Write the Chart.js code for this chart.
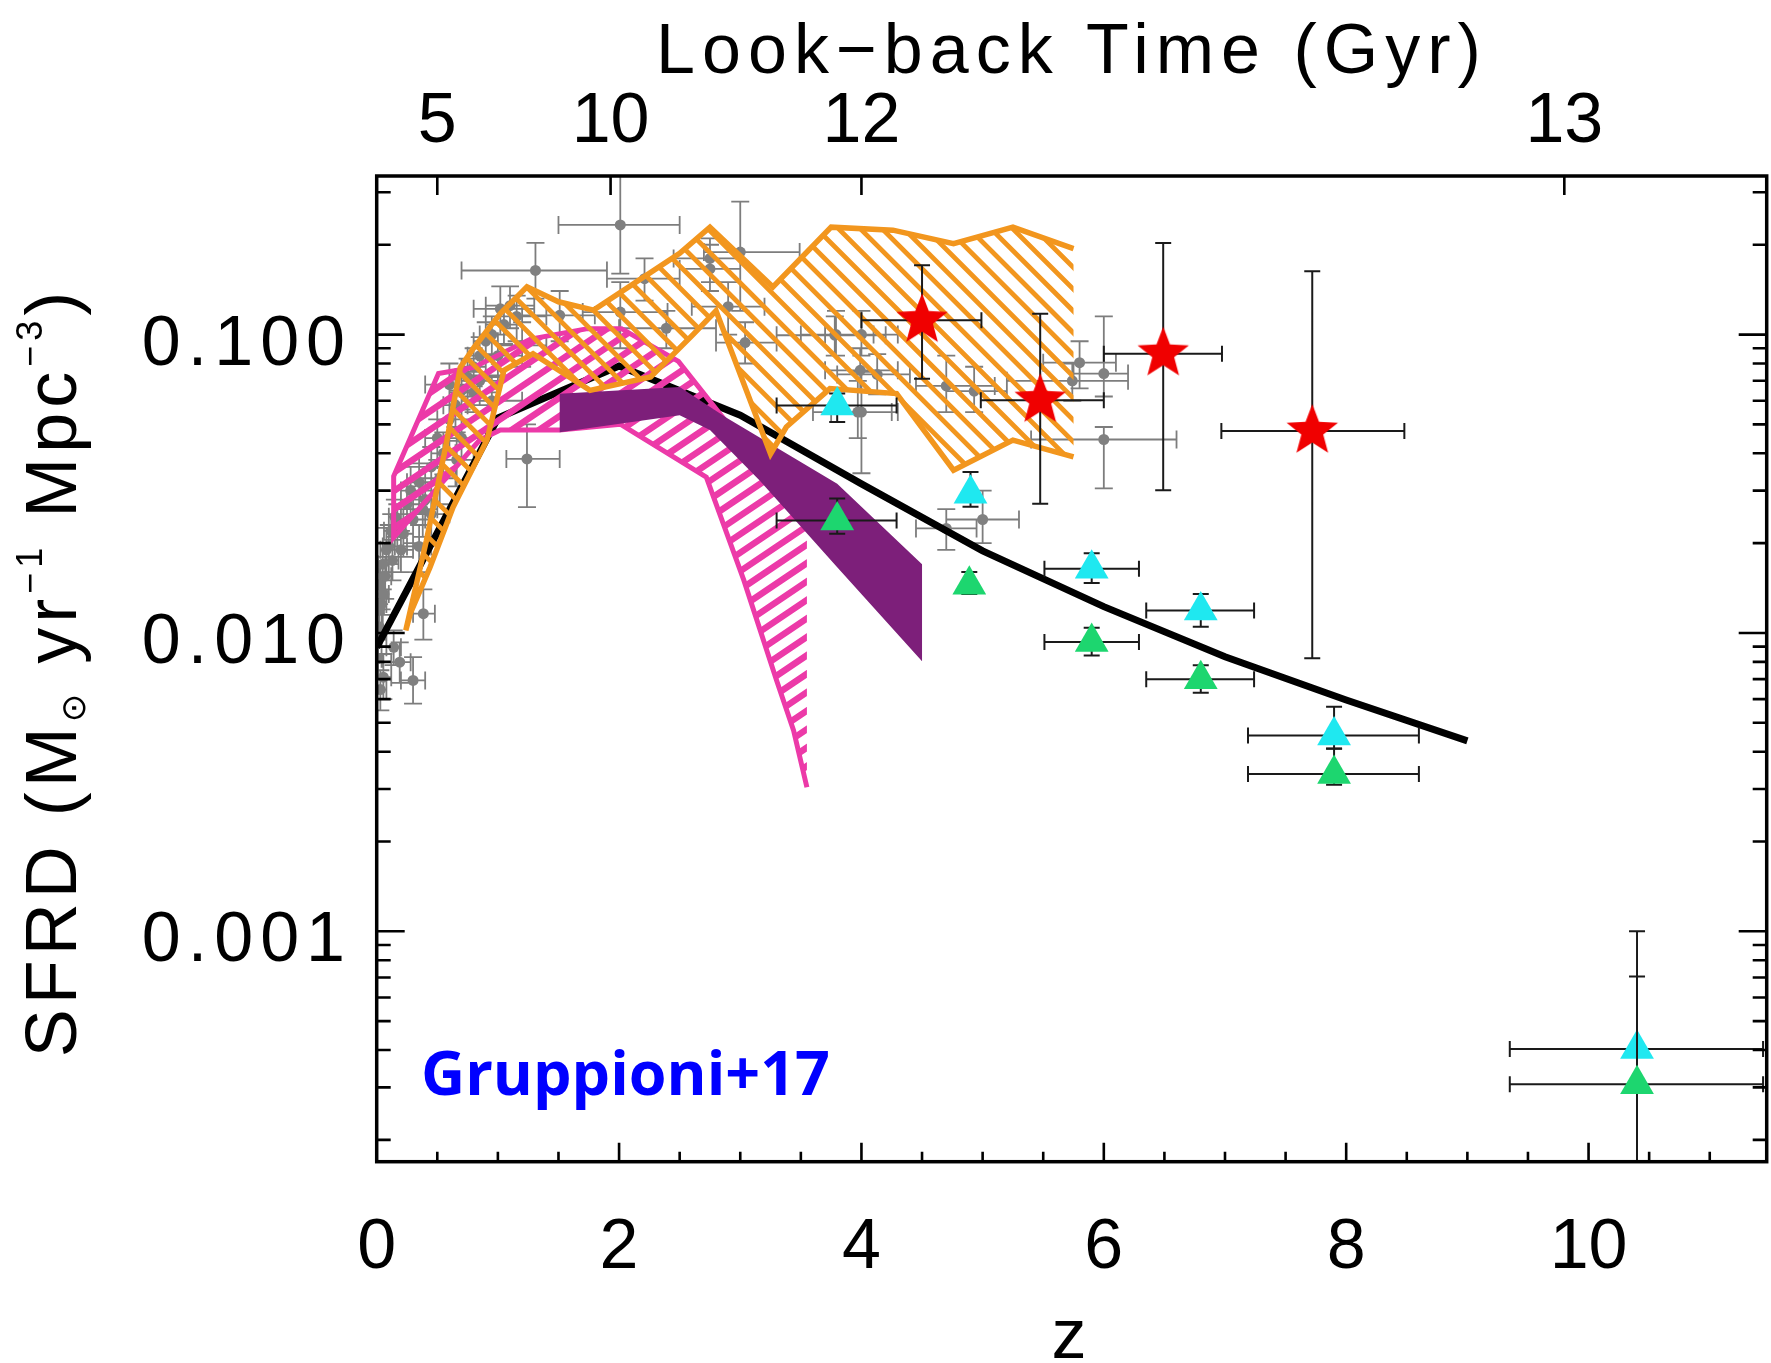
<!DOCTYPE html>
<html>
<head>
<meta charset="utf-8">
<title>SFRD vs redshift</title>
<script src="https://cdn.jsdelivr.net/npm/chart.js@4.4.1/dist/chart.umd.min.js"></script>
<style>
  html, body { margin: 0; padding: 0; background: #fff; }
  #sfrdChart { display: block; }
</style>
</head>
<body>
<canvas id="sfrdChart" width="1771" height="1363"></canvas>
<script>
// ===== Axes =====
const zMin = 0, zMax = 11.47;
const sfrdMin = 1.69e-4, sfrdMax = 0.340;
const zTicks = [0, 2, 4, 6, 8, 10];
const zTickLabels = ['0', '2', '4', '6', '8', '10'];
const zMinorStep = 0.5;
const sfrdTicks = [0.001, 0.01, 0.1];
const sfrdTickLabels = ['0.001', '0.010', '0.100'];
const lookbackZ = [0.50, 1.93, 4.00, 9.80];
const lookbackLabels = ['5', '10', '12', '13'];

// ===== Literature compilation (grey) =====
const greyZ   = [2.01, 1.31, 2.75, 3.00, 2.90, 3.04, 2.39, 2.01, 2.21, 1.02, 1.155, 1.51, 2.75, 3.78, 3.97, 1.24, 0.385, 0.30, 0.19, 0.14, 0.055, 0.03,
                 3.79, 4.00, 3.99, 4.13, 4.00, 4.70, 4.93, 5.80, 5.74, 6.00, 6.00, 5.00, 4.70,
                 0.02, 0.03, 0.05, 0.07, 0.10, 0.12, 0.15, 0.20, 0.25, 0.30, 0.35, 0.40, 0.45, 0.50, 0.55, 0.60, 0.65, 0.70, 0.75, 0.80, 0.85, 0.90, 0.95, 1.05, 1.10,
                 0.60, 0.80, 0.45, 0.70, 1.00, 0.95, 0.35, 0.04, 0.01,
                 0.02, 0.04, 0.06, 0.08, 0.13, 0.17, 0.22, 0.28, 0.38, 0.52, 0.66, 0.85, 1.20];
const greyV   = [0.233, 0.164, 0.180, 0.189, 0.124, 0.094, 0.105, 0.119, 0.154, 0.122, 0.115, 0.116, 0.166, 0.0995, 0.055, 0.0383, 0.0116, 0.00693, 0.00798, 0.00895, 0.00711, 0.00646,
                 0.100, 0.100, 0.0759, 0.0735, 0.055, 0.0673, 0.0646, 0.0805, 0.070, 0.074, 0.0445, 0.024, 0.0224,
                 0.012, 0.0145, 0.017, 0.0155, 0.0195, 0.022, 0.0245, 0.019, 0.027, 0.024, 0.032, 0.028, 0.036, 0.045, 0.040, 0.052, 0.058, 0.065, 0.072, 0.078, 0.085, 0.095, 0.100, 0.108, 0.125,
                 0.068, 0.064, 0.025, 0.045, 0.085, 0.060, 0.0195, 0.0098, 0.0082,
                 0.0105, 0.0125, 0.0135, 0.0190, 0.0175, 0.0230, 0.0215, 0.0300, 0.0260, 0.0330, 0.0380, 0.0700, 0.0920];
const greyZlo = [1.50, 0.70, 2.45, 2.70, 2.60, 2.80, 2.00, 1.70, 1.90, 0.80, 0.90, 1.20, 2.50, 3.30, 3.60, 1.07, 0.30, 0.20, 0.12, 0.08, 0.00, 0.00,
                 3.50, 3.70, 3.70, 3.80, 3.75, 4.45, 4.70, 5.50, 5.20, 5.75, 5.40, 4.70, 4.45,
                 0.00, 0.00, 0.01, 0.02, 0.05, 0.06, 0.10, 0.10, 0.20, 0.20, 0.25, 0.30, 0.35, 0.40, 0.45, 0.50, 0.55, 0.60, 0.65, 0.70, 0.75, 0.80, 0.85, 0.90, 0.90,
                 0.40, 0.60, 0.30, 0.50, 0.80, 0.70, 0.25, 0.00, 0.00,
                 0.00, 0.00, 0.02, 0.03, 0.08, 0.10, 0.15, 0.20, 0.25, 0.40, 0.50, 0.70, 1.00];
const greyZhi = [2.50, 1.90, 3.00, 3.49, 3.20, 3.30, 2.80, 2.40, 2.50, 1.30, 1.40, 1.80, 3.00, 4.20, 4.30, 1.51, 0.48, 0.40, 0.28, 0.20, 0.12, 0.08,
                 4.10, 4.30, 4.30, 4.40, 4.25, 5.10, 5.20, 6.10, 6.20, 6.20, 6.60, 5.30, 4.95,
                 0.05, 0.07, 0.10, 0.12, 0.15, 0.20, 0.20, 0.30, 0.35, 0.40, 0.45, 0.50, 0.55, 0.60, 0.65, 0.70, 0.75, 0.80, 0.85, 0.90, 0.95, 1.00, 1.05, 1.20, 1.30,
                 0.80, 1.00, 0.60, 0.90, 1.20, 1.20, 0.45, 0.08, 0.04,
                 0.05, 0.08, 0.10, 0.13, 0.18, 0.24, 0.30, 0.36, 0.50, 0.65, 0.80, 1.00, 1.40];
const greyVlo = [0.160, 0.132, 0.140, 0.120, 0.100, 0.080, 0.090, 0.090, 0.130, 0.100, 0.095, 0.095, 0.150, 0.085, 0.045, 0.0264, 0.0095, 0.0058, 0.0068, 0.0078, 0.0060, 0.0055,
                 0.085, 0.085, 0.065, 0.063, 0.0343, 0.055, 0.055, 0.066, 0.060, 0.062, 0.0305, 0.020, 0.019,
                 0.010, 0.012, 0.014, 0.013, 0.017, 0.019, 0.021, 0.016, 0.024, 0.020, 0.027, 0.024, 0.030, 0.038, 0.034, 0.044, 0.049, 0.056, 0.062, 0.067, 0.073, 0.082, 0.086, 0.093, 0.105,
                 0.058, 0.055, 0.021, 0.038, 0.073, 0.048, 0.016, 0.008, 0.007,
                 0.0090, 0.0105, 0.0115, 0.0160, 0.0150, 0.0195, 0.0180, 0.0250, 0.0210, 0.0270, 0.0310, 0.0580, 0.0780];
const greyVhi = [0.360, 0.203, 0.210, 0.279, 0.150, 0.110, 0.120, 0.150, 0.180, 0.145, 0.135, 0.140, 0.200, 0.115, 0.070, 0.050, 0.014, 0.0083, 0.0093, 0.0102, 0.0085, 0.0075,
                 0.120, 0.120, 0.090, 0.086, 0.075, 0.085, 0.078, 0.095, 0.080, 0.115, 0.049, 0.030, 0.026,
                 0.014, 0.017, 0.020, 0.018, 0.023, 0.025, 0.028, 0.022, 0.031, 0.028, 0.037, 0.033, 0.042, 0.052, 0.047, 0.060, 0.067, 0.075, 0.083, 0.090, 0.098, 0.110, 0.115, 0.125, 0.145,
                 0.080, 0.075, 0.030, 0.052, 0.100, 0.072, 0.023, 0.012, 0.0095,
                 0.0125, 0.0150, 0.0160, 0.0225, 0.0205, 0.0270, 0.0260, 0.0360, 0.0320, 0.0400, 0.0470, 0.0850, 0.1100];

// ===== Best-fit SFRD curve (tabulated at integer z) =====
const curveZ = [0, 1, 2, 3, 4, 5, 6, 7, 8, 9];
const curveV = [0.00895, 0.0525, 0.0785, 0.0537, 0.0316, 0.01884, 0.01225, 0.00832, 0.00596, 0.00435];

// ===== Shaded regions (outline order, right edge left open) =====
const pinkZ = [3.55, 3.20, 2.86, 2.49, 2.02, 1.74, 1.27, 0.80, 0.51, 0.14, 0.14, 0.85, 1.02, 1.51, 2.01, 2.72, 3.03, 3.30, 3.44, 3.55];
const pinkV = [0.0240, 0.0355, 0.0525, 0.0813, 0.1047, 0.1047, 0.0966, 0.0776, 0.0740, 0.0335, 0.0209, 0.0443, 0.0479, 0.0479, 0.0501, 0.0333, 0.0150, 0.00693, 0.00471, 0.00304];

const purpleZ = [1.51, 2.50, 2.89, 3.80, 4.50, 4.50, 3.80, 3.16, 2.75, 2.50, 1.51];
const purpleV = [0.0634, 0.0667, 0.0525, 0.0316, 0.0170, 0.00804, 0.0166, 0.0324, 0.0479, 0.0537, 0.0471];

const orangeZ = [5.75, 5.25, 4.76, 4.26, 3.75, 3.27, 2.75, 2.50, 1.79, 1.50, 1.24, 1.02, 0.80, 0.69, 0.58, 0.41, 0.24,
                 0.28, 0.44, 0.63, 0.91, 1.05, 1.29, 1.76, 2.26, 2.61, 2.80, 3.25, 3.38, 3.74, 4.29, 4.76, 5.25, 5.75];
const orangeV = [0.1941, 0.2291, 0.2018, 0.2239, 0.2291, 0.1445, 0.2291, 0.1871, 0.1208, 0.1288, 0.1445, 0.1175, 0.0902, 0.0776, 0.0443, 0.0204, 0.0102,
                 0.0117, 0.0166, 0.0264, 0.0443, 0.0759, 0.0863, 0.0650, 0.0721, 0.1000, 0.1202, 0.0398, 0.0490, 0.0659, 0.0634, 0.0351, 0.0443, 0.0389];

// ===== Herschel total (cyan) and dust-obscured (green) =====
const cyanZ   = [3.80, 4.90, 5.90, 6.80, 7.90, 10.40];
const cyanV   = [0.0579, 0.0293, 0.0164, 0.0119, 0.00453, 0.000403];
const cyanZlo = [3.30, null, 5.51, 6.35, 7.19, 9.35];
const cyanZhi = [4.29, null, 6.29, 7.24, 8.60, 11.44];
const cyanVlo = [0.0509, 0.0265, 0.0147, 0.0105, 0.00409, 1e-6];
const cyanVhi = [0.0635, 0.0346, 0.0185, 0.0135, 0.00566, 0.001];

const greenZ   = [3.80, 4.89, 5.90, 6.80, 7.90, 10.40];
const greenV   = [0.0238, 0.0145, 0.00933, 0.0070, 0.00337, 0.000307];
const greenZlo = [3.30, null, 5.51, 6.35, 7.19, 9.35];
const greenZhi = [4.29, null, 6.29, 7.24, 8.60, 11.44];
const greenVlo = [0.0215, 0.0135, 0.0084, 0.0063, 0.0031, 1e-6];
const greenVhi = [0.0282, 0.0160, 0.0104, 0.0078, 0.0041, 0.000706];

// ===== Red stars =====
const starZ   = [4.50, 5.475, 6.49, 7.72];
const starV   = [0.1117, 0.0603, 0.0863, 0.0475];
const starZlo = [4.00, 4.985, 6.00, 6.97];
const starZhi = [4.99, 6.00, 6.975, 8.48];
const starVlo = [0.0711, 0.0271, 0.0301, 0.00822];
const starVhi = [0.1706, 0.1175, 0.2028, 0.163];

// ===== Helpers =====
const pts = (xs, ys) => xs.map((x, i) => ({x: x, y: ys[i]}));

function starImage(rOut, rIn, color) {
    const c = document.createElement('canvas');
    const s = Math.ceil(rOut * 2 + 4);
    c.width = s; c.height = s;
    const g = c.getContext('2d');
    g.translate(s / 2, s / 2);
    g.beginPath();
    for (let i = 0; i < 10; i++) {
        const r = i % 2 ? rIn : rOut;
        const a = -Math.PI / 2 + i * Math.PI / 5;
        g.lineTo(r * Math.cos(a), r * Math.sin(a));
    }
    g.closePath();
    g.fillStyle = color;
    g.fill();
    return c;
}

// parallel lines clipped to the current path
function hatchPath(ctx, el, h) {
    const th = h.angle * Math.PI / 180;
    const dx = Math.cos(th), dy = Math.sin(th);
    const nx = -dy, ny = dx;
    let lo = Infinity, hi = -Infinity;
    el.forEach(p => { const t = p.x * nx + p.y * ny; lo = Math.min(lo, t); hi = Math.max(hi, t); });
    ctx.save();
    ctx.clip();
    ctx.strokeStyle = h.color;
    ctx.lineWidth = h.width;
    ctx.beginPath();
    for (let t = Math.floor(lo / h.spacing) * h.spacing; t <= hi + h.spacing; t += h.spacing) {
        const cx = nx * t, cy = ny * t;
        ctx.moveTo(cx - dx * 4000, cy - dy * 4000);
        ctx.lineTo(cx + dx * 4000, cy + dy * 4000);
    }
    ctx.stroke();
    ctx.restore();
}

const PINK = '#ec3aa8', ORANGE = '#f2961e', PURPLE = '#7d1f7a';

// ===== Regions and error bars, drawn in dataset order =====
const regionsAndBars = {
    id: 'regionsAndBars',
    beforeDatasetDraw(chart, args) {
        const ds = chart.data.datasets[args.index];
        if (!ds.region && !ds.bars) return;
        const {ctx, chartArea: a, scales: {x, y}} = chart;
        ctx.save();
        ctx.beginPath();
        ctx.rect(a.left, a.top, a.right - a.left, a.bottom - a.top);
        ctx.clip();
        if (ds.region) {
            const el = args.meta.data;
            const r = ds.region;
            ctx.beginPath();
            el.forEach((p, i) => i ? ctx.lineTo(p.x, p.y) : ctx.moveTo(p.x, p.y));
            ctx.closePath();
            if (r.hatch) {
                hatchPath(ctx, el, r.hatch);
            } else {
                ctx.fillStyle = r.fill;
                ctx.fill();
            }
            if (r.edge) {
                ctx.beginPath();
                el.forEach((p, i) => i ? ctx.lineTo(p.x, p.y) : ctx.moveTo(p.x, p.y));
                ctx.strokeStyle = r.edge;
                ctx.lineWidth = r.edgeWidth;
                ctx.lineJoin = 'miter';
                ctx.stroke();
            }
        }
        if (ds.bars) {
            const b = ds.bars;
            ctx.strokeStyle = b.color;
            ctx.lineWidth = b.width;
            ctx.beginPath();
            ds.data.forEach((p, i) => {
                const px = x.getPixelForValue(p.x), py = y.getPixelForValue(p.y);
                if (b.zlo[i] != null) {
                    const x0 = x.getPixelForValue(b.zlo[i]), x1 = x.getPixelForValue(b.zhi[i]);
                    ctx.moveTo(x0, py); ctx.lineTo(x1, py);
                    ctx.moveTo(x0, py - b.cap); ctx.lineTo(x0, py + b.cap);
                    ctx.moveTo(x1, py - b.cap); ctx.lineTo(x1, py + b.cap);
                }
                const y0 = y.getPixelForValue(b.vlo[i]), y1 = y.getPixelForValue(b.vhi[i]);
                ctx.moveTo(px, y0); ctx.lineTo(px, y1);
                ctx.moveTo(px - b.cap, y0); ctx.lineTo(px + b.cap, y0);
                ctx.moveTo(px - b.cap, y1); ctx.lineTo(px + b.cap, y1);
            });
            ctx.stroke();
        }
        ctx.restore();
    }
};

// ===== Frame, inward ticks and all axis text =====
const frameAndText = {
    id: 'frameAndText',
    afterDraw(chart) {
        const {ctx, chartArea: a, scales: {x, x2, y}} = chart;
        ctx.save();
        ctx.strokeStyle = '#000';
        ctx.lineWidth = 2.6;
        ctx.beginPath();
        for (let k = 0; k * zMinorStep <= zMax; k++) {
            const v = k * zMinorStep;
            const px = x.getPixelForValue(v);
            const len = zTicks.includes(v) ? 19 : 10;
            ctx.moveTo(px, a.bottom); ctx.lineTo(px, a.bottom - len);
        }
        lookbackZ.forEach(v => {
            const px = x2.getPixelForValue(v);
            ctx.moveTo(px, a.top); ctx.lineTo(px, a.top + 19);
        });
        for (let d = -4; d <= 0; d++) {
            for (let k = 1; k <= 9; k++) {
                const v = k * Math.pow(10, d);
                if (v < sfrdMin || v > sfrdMax) continue;
                const py = y.getPixelForValue(v);
                const len = k === 1 ? 28 : 14;
                ctx.moveTo(a.left, py); ctx.lineTo(a.left + len, py);
                ctx.moveTo(a.right, py); ctx.lineTo(a.right - len, py);
            }
        }
        ctx.stroke();
        ctx.lineWidth = 3.5;
        ctx.strokeRect(a.left, a.top, a.right - a.left, a.bottom - a.top);

        ctx.fillStyle = '#000';
        ctx.textBaseline = 'alphabetic';
        ctx.font = '70px "Liberation Sans"';
        ctx.textAlign = 'center';
        zTicks.forEach((v, i) => ctx.fillText(zTickLabels[i], x.getPixelForValue(v), 1268));
        lookbackZ.forEach((v, i) => ctx.fillText(lookbackLabels[i], x2.getPixelForValue(v), 142));
        ctx.fillText('z', 1069, 1358);

        ctx.letterSpacing = '7px';
        ctx.fillText('Look\u2212back Time (Gyr)', 1072, 73);

        ctx.textAlign = 'right';
        sfrdTicks.forEach((v, i) => ctx.fillText(sfrdTickLabels[i], 352, y.getPixelForValue(v) + 30));

        // rotated y title with sub/superscripts
        const runs = [
            {t: 'SFRD (M', f: 72, dy: 0},
            {t: '\u2299', f: 34, dy: 9},
            {t: ' yr', f: 72, dy: 0},
            {t: '\u22121', f: 36, dy: -34},
            {t: ' Mpc', f: 72, dy: 0},
            {t: '\u22123', f: 36, dy: -34},
            {t: ')', f: 72, dy: 0}
        ];
        ctx.letterSpacing = '5px';
        let total = 0;
        runs.forEach(r => { ctx.font = r.f + 'px "Liberation Sans", "DejaVu Sans"'; r.w = ctx.measureText(r.t).width; total += r.w; });
        ctx.translate(76, 672);
        ctx.rotate(-Math.PI / 2);
        ctx.textAlign = 'left';
        let cx = -total / 2;
        runs.forEach(r => {
            ctx.font = r.f + 'px "Liberation Sans", "DejaVu Sans"';
            ctx.fillText(r.t, cx, r.dy);
            cx += r.w;
        });
        ctx.restore();

        ctx.save();
        ctx.font = 'bold 61px "Open Sans"';
        ctx.fillStyle = '#0000ff';
        ctx.textAlign = 'left';
        ctx.fillText('Gruppioni+17', 421, 1095);
        ctx.restore();
    }
};

// ===== Chart =====
const ctx = document.getElementById('sfrdChart').getContext('2d');
const hidden = {ticks: {display: false}, grid: {display: false}, border: {display: false}};

new Chart(ctx, {
    type: 'scatter',
    data: {
        datasets: [
            {label: 'compilation', data: pts(greyZ, greyV), order: 60,
             pointRadius: 5.5, pointBackgroundColor: '#808080', pointBorderWidth: 0,
             bars: {zlo: greyZlo, zhi: greyZhi, vlo: greyVlo, vhi: greyVhi, color: '#7d7d7d', width: 1.8, cap: 9}},
            {label: 'fit', data: pts(curveZ, curveV), order: 50, showLine: true,
             borderColor: '#000', borderWidth: 7, pointRadius: 0, tension: 0},
            {label: 'pink', data: pts(pinkZ, pinkV), order: 40, pointRadius: 0,
             region: {hatch: {angle: -34, spacing: 15.3, width: 6.5, color: PINK}, edge: PINK, edgeWidth: 5}},
            {label: 'purple', data: pts(purpleZ, purpleV), order: 30, pointRadius: 0,
             region: {fill: PURPLE}},
            {label: 'orange', data: pts(orangeZ, orangeV), order: 20, pointRadius: 0,
             region: {hatch: {angle: 45, spacing: 15.4, width: 4.8, color: ORANGE}, edge: ORANGE, edgeWidth: 5.5}},
            {label: 'total', data: pts(cyanZ, cyanV), order: 12,
             pointStyle: 'triangle', pointRadius: 19.5, pointBackgroundColor: '#1fe8f0', pointBorderWidth: 0,
             bars: {zlo: cyanZlo, zhi: cyanZhi, vlo: cyanVlo, vhi: cyanVhi, color: '#1a1a1a', width: 2, cap: 8}},
            {label: 'obscured', data: pts(greenZ, greenV), order: 11,
             pointStyle: 'triangle', pointRadius: 19.5, pointBackgroundColor: '#1dd66f', pointBorderWidth: 0,
             bars: {zlo: greenZlo, zhi: greenZhi, vlo: greenVlo, vhi: greenVhi, color: '#1a1a1a', width: 2, cap: 8}},
            {label: 'stars', data: pts(starZ, starV), order: 10,
             pointStyle: starImage(27, 11.5, '#f00000'), pointRadius: 27,
             bars: {zlo: starZlo, zhi: starZhi, vlo: starVlo, vhi: starVhi, color: '#1a1a1a', width: 2, cap: 8}}
        ]
    },
    options: {
        responsive: false,
        animation: false,
        devicePixelRatio: 1,
        layout: {autoPadding: false, padding: {left: 0, top: 0, bottom: 0, right: 4.3}},
        plugins: {legend: {display: false}, tooltip: {enabled: false}},
        scales: {
            x: {type: 'linear', position: 'bottom', min: zMin, max: zMax, ...hidden,
                afterFit(s) { s.height = 201.3; }},
            x2: {type: 'linear', axis: 'x', position: 'top', min: zMin, max: zMax, ...hidden,
                afterFit(s) { s.height = 176; }},
            y: {type: 'logarithmic', position: 'left', min: sfrdMin, max: sfrdMax, ...hidden,
                afterFit(s) { s.width = 376.7; }}
        }
    },
    plugins: [regionsAndBars, frameAndText]
});
</script>
</body>
</html>
